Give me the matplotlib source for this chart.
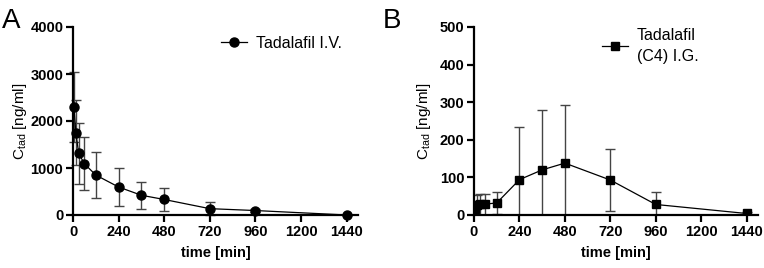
import matplotlib
matplotlib.use("Agg")
import matplotlib.pyplot as plt
from matplotlib.lines import Line2D

plt.rcParams['font.family'] = ['Liberation Sans', 'DejaVu Sans']
plt.rcParams['mathtext.fontset'] = 'custom'
plt.rcParams['mathtext.rm'] = 'Liberation Sans'

# Panel A: Tadalafil I.V.
time_iv = [5, 15, 30, 60, 120, 240, 360, 480, 720, 960, 1440]
conc_iv = [2300, 1750, 1310, 1090, 850, 595, 420, 330, 135, 95, 0]
sd_iv = [740, 690, 650, 560, 490, 400, 290, 240, 135, 25, 10]

# Panel B: Tadalafil (C4) I.G.
time_ig = [5, 15, 30, 60, 120, 240, 360, 480, 720, 960, 1440]
conc_ig = [16, 26, 28, 29, 32, 94, 120, 138, 93, 28, 4]
sd_ig = [21, 28, 27, 28, 29, 140, 160, 155, 83, 33, 3]

xticks = [0, 240, 480, 720, 960, 1200, 1440]
yticks_a = [0, 1000, 2000, 3000, 4000]
yticks_b = [0, 100, 200, 300, 400, 500]

W, H = 764, 268
fig = plt.figure(figsize=(W / 100, H / 100), dpi=100)

def style(ax, yticks, ylim, ylabelpad):
    ax.set_xlim(0, 1500)
    ax.set_ylim(*ylim)
    ax.set_xticks(xticks)
    ax.set_yticks(yticks)
    for s in ['top', 'right']:
        ax.spines[s].set_visible(False)
    for s in ['left', 'bottom']:
        ax.spines[s].set_linewidth(1.6)
    ax.tick_params(direction='out', length=5, width=1.6, labelsize=10.5, pad=2)
    for lab in ax.get_xticklabels() + ax.get_yticklabels():
        lab.set_fontweight('bold')
    ax.set_xlabel('time [min]', fontsize=10.5, fontweight='bold', labelpad=5)
    ax.set_ylabel(r'C$_{\mathregular{tad}}$ [ng/ml]', fontsize=11, labelpad=ylabelpad)

axA = fig.add_axes([73 / W, 1 - 215 / H, 285 / W, 188 / H])
axA.errorbar(time_iv, conc_iv, yerr=sd_iv, color='black', ecolor='#444444',
             elinewidth=1.0, capsize=3.5, capthick=1.0, marker='o',
             markersize=6.5, linewidth=0.9, clip_on=False)
style(axA, yticks_a, (0, 4000), 1)
hA = Line2D([], [], color='black', marker='o', markersize=6.5, linewidth=0.9)
axA.legend([hA], ['Tadalafil I.V.'], loc='upper left', bbox_to_anchor=(0.47, 1.03),
           frameon=False, fontsize=11.5, handlelength=1.6, handletextpad=0.6)
fig.text(2 / W, 1 - 28 / H, 'A', fontsize=20)

axB = fig.add_axes([474 / W, 1 - 215 / H, 284 / W, 188 / H])
axB.errorbar(time_ig, conc_ig, yerr=sd_ig, color='black', ecolor='#444444',
             elinewidth=1.0, capsize=3.5, capthick=1.0, marker='s',
             markersize=6, linewidth=0.9, clip_on=True)
style(axB, yticks_b, (0, 500), 5)
hB = Line2D([], [], color='black', marker='s', markersize=6, linewidth=0.9)
legB = axB.legend([hB], ['Tadalafil\n(C4) I.G.'], loc='upper left', bbox_to_anchor=(0.40, 1.07),
                  frameon=False, fontsize=11.5, handlelength=1.6, handletextpad=0.6)
for t in legB.get_texts():
    t.set_linespacing(1.45)
fig.text(383 / W, 1 - 28 / H, 'B', fontsize=20)

fig.savefig('out.png', dpi=100)
